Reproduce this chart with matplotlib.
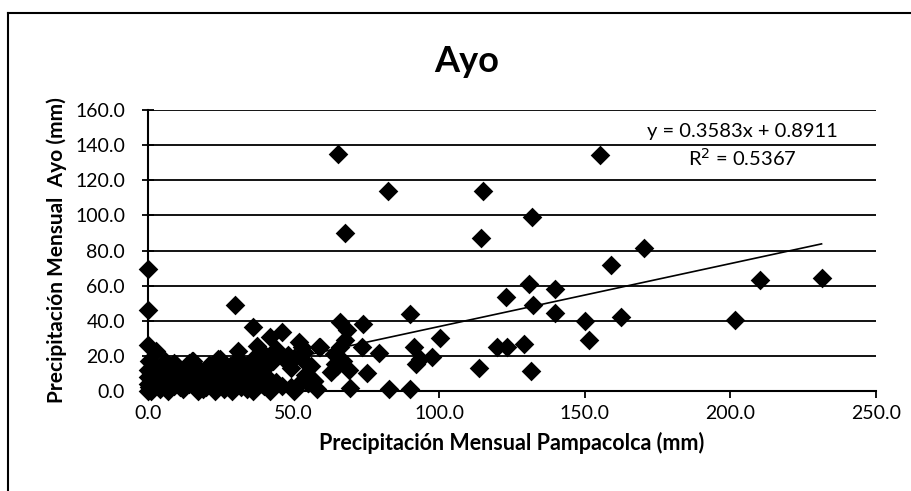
import matplotlib.pyplot as plt
from matplotlib.lines import Line2D

plt.rcParams['font.family'] = ['Lato', 'DejaVu Sans']

# Precipitacion mensual (mm): Pampacolca (x) vs Ayo (y)
# points on / near the y axis
axis_x = [0, 0, 0, 0.5, 0, 0, 0, 0, 0.3, 1, 2.9, 1.5]
axis_y = [69.7, 46.0, 26.0, 17, 12, 8, 4, 0, 2, 10, 22.9, 6]

# dense cluster near the origin
cluster_x = [1, 2, 3, 4, 5, 6, 7, 8, 9, 10, 11, 12, 13, 14, 15, 16, 17, 18, 19, 20,
             21, 22, 23, 24, 25, 26, 27, 28, 29, 30, 31, 32, 33, 34, 35, 36, 37, 38,
             39, 40, 41, 42, 43, 44, 46, 48, 49, 50, 52, 53, 54, 55, 56, 57, 58,
             2, 4, 6, 8, 10, 12, 14, 16, 18, 20, 22, 24, 26, 28, 30, 32, 34, 36, 38,
             40, 42, 49, 50, 3, 7, 11, 15.6, 19, 24.8, 33, 37, 41, 51, 5, 9, 13, 17,
             21, 23, 27, 35, 39, 47]
cluster_y = [0, 3, 7, 1, 12, 5, 0, 9, 3, 14, 6, 1, 10, 4, 17, 8, 0, 12, 5, 2,
             15, 9, 0, 18, 6, 11, 3, 14, 0, 7, 18, 2, 12, 6, 16, 0, 10, 20,
             4, 15, 8, 0, 17, 5, 3, 16, 2, 0, 4, 18, 9, 4.8, 14, 5.7, 1,
             15, 9, 17, 2, 6, 12, 16, 2, 6, 10, 4, 13, 1, 7, 15, 10, 1, 18, 8,
             3, 16, 13, 19, 11, 13, 2, 17, 1, 18, 4, 9, 6, 3, 14, 16, 10, 7,
             4, 1, 8, 14, 9, 19]

# low-mid band
band_x = [29.9, 36, 46, 42, 51.7, 58.6, 37.4, 31, 40, 44, 48, 53.5, 52.9, 59.1, 56.9, 55]
band_y = [48.7, 36.3, 33.4, 30.5, 27.7, 24.8, 25.8, 22.9, 21, 24, 20.5, 22, 24.8, 24.8, 5.7, 4.8]

# around 60-100 mm
mid_x = [66, 74, 68.5, 67.5, 66, 64, 67, 65, 69, 63, 73.5, 79.2, 91.2, 93.5, 97.5,
         92.2, 64.3, 75.2, 69.5, 82.6, 90.1, 90.1, 100.4]
mid_y = [39.1, 38.2, 34.5, 29, 25, 21, 17, 14, 12, 11, 24.8, 21.9, 24.8, 18.1, 19.5,
         15.3, 15.3, 10.5, 1.9, 1.0, 1.0, 43.9, 30.2]

# scattered high values
high_x = [65.2, 82.4, 115.0, 131.9, 67.5, 114.5, 155.1, 130.9, 139.7, 122.8, 132.2,
          139.6, 150.0, 151.4, 119.9, 123.3, 129.1, 113.6, 131.4, 170.3, 158.9,
          210.2, 231.3, 201.5, 162.3]
high_y = [135.0, 113.6, 113.6, 98.9, 89.7, 87.2, 134.3, 61.1, 58.2, 53.8, 48.7,
          44.5, 40.1, 29.0, 24.8, 24.8, 26.7, 13.0, 11.5, 81.5, 71.6,
          63.4, 64.5, 40.7, 42.0]

pampacolca = axis_x + cluster_x + band_x + mid_x + high_x
ayo = axis_y + cluster_y + band_y + mid_y + high_y

# trendline from the chart
slope = 0.3583
intercept = 0.8911
eq_text = "y = 0.3583x + 0.8911"
r2_text = "R$^2$ = 0.5367"

fig = plt.figure(figsize=(9.12, 4.91), dpi=100)
ax = fig.add_axes([148 / 912, 1 - 391 / 491, 728 / 912, 281 / 491])

ax.scatter(pampacolca, ayo, marker="D", s=100, color="black", zorder=3,
           linewidths=0, clip_on=False)

x_line = [min(pampacolca), max(pampacolca)]
ax.plot(x_line, [slope * v + intercept for v in x_line], color="black",
        lw=1.2, zorder=4)

ax.set_xlim(0, 250)
ax.set_ylim(0, 160)
ax.set_xticks([0, 50, 100, 150, 200, 250])
ax.set_yticks([0, 20, 40, 60, 80, 100, 120, 140, 160])
ax.set_xticklabels([f"{v:.1f}" for v in ax.get_xticks()], fontsize=14)
ax.set_yticklabels([f"{v:.1f}" for v in ax.get_yticks()], fontsize=14)
ax.tick_params(axis="x", direction="out", length=5, width=1.3, pad=5)
ax.tick_params(axis="y", direction="inout", length=9, width=1.3, pad=12)

ax.yaxis.grid(True, color="black", lw=1.3)
ax.set_axisbelow(True)
for side in ["top", "right"]:
    ax.spines[side].set_visible(False)
for side in ["left", "bottom"]:
    ax.spines[side].set_linewidth(1.5)
    ax.spines[side].set_zorder(2)

ax.set_xlabel("Precipitación Mensual Pampacolca (mm)", fontsize=15.5,
              fontweight="bold", labelpad=7)
ax.set_ylabel("Precipitación Mensual  Ayo (mm)", fontsize=15,
              fontweight="bold")
ax.yaxis.set_label_coords(-0.111, 0.5)

fig.text(467 / 912, 1 - 62 / 491, "Ayo", fontsize=26, fontweight="bold",
         ha="center", va="center")
ax.text(204, 147.5, eq_text, fontsize=14.5, ha="center", va="center")
ax.text(204, 132.5, r2_text, fontsize=14.5, ha="center", va="center")

# outer chart border
fig.add_artist(Line2D([8 / 912, 1], [1 - 13 / 491] * 2, color="black", lw=1.5))
fig.add_artist(Line2D([8 / 912] * 2, [0, 1 - 13 / 491], color="black", lw=1.5))

fig.savefig("out.png", dpi=100)
